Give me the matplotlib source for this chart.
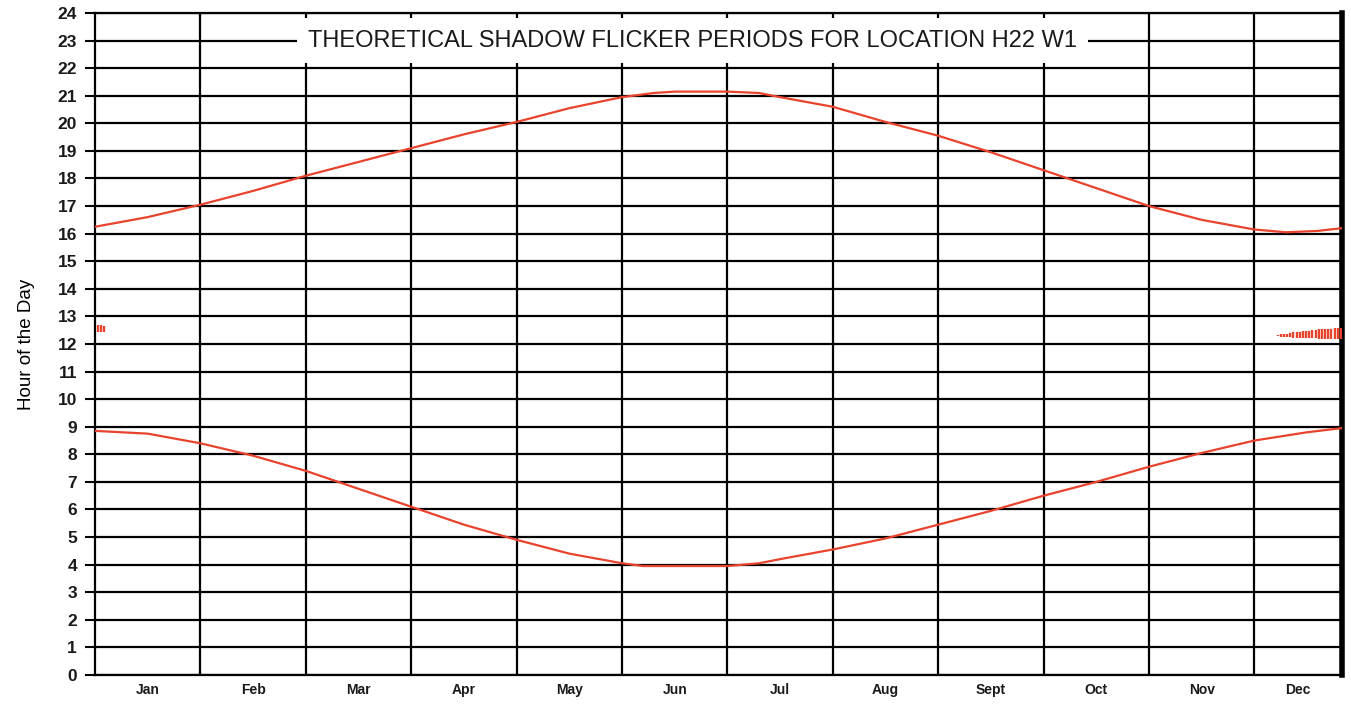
import matplotlib.pyplot as plt
import numpy as np

# 月単位のx位置 (0 = 1月初め)
MONTHS = ["Jan", "Feb", "Mar", "Apr", "May", "Jun",
          "Jul", "Aug", "Sept", "Oct", "Nov", "Dec"]
X_END = 11.83

# 日没側の曲線
upper_x = [0, 0.5, 1.0, 1.5, 2.0, 2.5, 3.0, 3.5, 4.0, 4.5, 5.0, 5.3, 5.5, 6.0,
           6.3, 6.5, 7.0, 7.5, 8.0, 8.5, 9.0, 9.5, 10.0, 10.5, 11.0, 11.3, 11.6, 11.83]
upper_h = [16.25, 16.6, 17.05, 17.55, 18.1, 18.6, 19.1, 19.6, 20.05, 20.55, 20.95, 21.1,
           21.15, 21.15, 21.1, 20.95, 20.6, 20.05, 19.55, 18.95, 18.3, 17.65, 17.0,
           16.5, 16.15, 16.05, 16.1, 16.2]

# 日の出側の曲線
lower_x = [0, 0.5, 1.0, 1.5, 2.0, 2.5, 3.0, 3.5, 4.0, 4.5, 5.0, 5.2, 6.0, 6.3,
           6.5, 7.0, 7.5, 8.0, 8.5, 9.0, 9.5, 10.0, 10.5, 11.0, 11.5, 11.83]
lower_h = [8.85, 8.75, 8.4, 7.95, 7.4, 6.75, 6.1, 5.45, 4.9, 4.4, 4.05, 3.95, 3.95, 4.05,
           4.2, 4.55, 4.95, 5.45, 5.95, 6.5, 7.0, 7.55, 8.05, 8.5, 8.8, 8.95]

# シャドーフリッカー期間 (日ごとの開始・終了時刻)
flicker_x = [0.03, 0.06, 0.09,
             11.22, 11.25, 11.28, 11.31, 11.34, 11.37, 11.40, 11.43, 11.46, 11.49,
             11.52, 11.55, 11.58, 11.61, 11.64, 11.67, 11.70, 11.73, 11.76, 11.79, 11.82]
flicker_start = [12.42, 12.42, 12.43,
                 12.28, 12.27, 12.26, 12.26, 12.24, 12.23, 12.22, 12.22, 12.21, 12.21,
                 12.20, 12.20, 12.20, 12.19, 12.19, 12.19, 12.18, 12.18, 12.18, 12.18, 12.18]
flicker_end = [12.68, 12.68, 12.66,
               12.34, 12.35, 12.36, 12.37, 12.40, 12.42, 12.43, 12.45, 12.46, 12.47,
               12.48, 12.49, 12.50, 12.53, 12.54, 12.55, 12.56, 12.56, 12.57, 12.57, 12.57]

RED = "#e8432d"

fig = plt.figure(figsize=(13.51, 7.07), dpi=100)
ax = fig.add_axes([0.0703, 0.0453, 0.9230, 0.9363])

# グリッド
for h in range(0, 25):
    ax.axhline(h, color="black", linewidth=1.6, zorder=1)
for m in range(1, 12):
    ax.axvline(m, color="black", linewidth=1.6, zorder=1)

ax.plot(upper_x, upper_h, color=RED, linewidth=1.6, zorder=3)
ax.plot(lower_x, lower_h, color=RED, linewidth=1.6, zorder=3)
ax.vlines(flicker_x, flicker_start, flicker_end, color=RED, linewidth=1.7, zorder=4)

ax.set_xlim(0, X_END)
ax.set_ylim(0, 24)

ax.set_yticks(range(0, 25))
ax.tick_params(axis="y", length=7, width=1.5, pad=6, labelsize=12.5)
for lab in ax.get_yticklabels():
    lab.set_fontweight("heavy")
    lab.set_family("Liberation Sans")
    lab.set_color("#1a1a1a")

# 月ラベルは各列の中央に
centers = [m + 0.5 for m in range(11)] + [(11 + X_END) / 2]
ax.set_xticks(centers)
ax.set_xticklabels(MONTHS, fontsize=10, fontweight="bold", family="Liberation Sans",
                   color="#1a1a1a")
ax.tick_params(axis="x", length=0, pad=6)

ax.set_ylabel("Hour of the Day", fontsize=13.5, family="Liberation Sans", labelpad=16)

for side in ["left", "top", "bottom"]:
    ax.spines[side].set_linewidth(1.6)
ax.spines["right"].set_linewidth(4)

ax.text(5.67, 23, "THEORETICAL SHADOW FLICKER PERIODS FOR LOCATION H22 W1",
        fontsize=17, family="Liberation Sans", ha="center", va="center", zorder=5,
        color="#1a1a1a", bbox=dict(facecolor="white", edgecolor="none", pad=8))

plt.savefig("out.png", dpi=100)
